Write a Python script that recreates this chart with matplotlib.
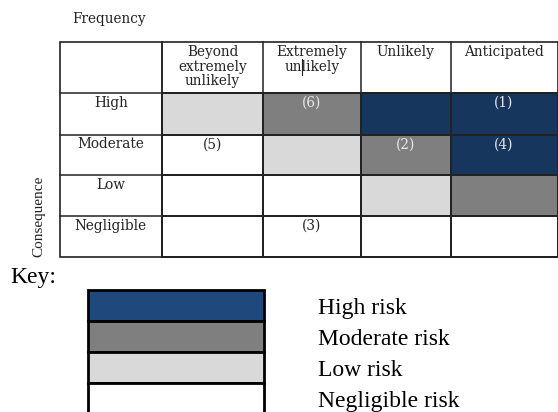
import matplotlib
matplotlib.use("Agg")
import matplotlib.pyplot as plt
from matplotlib.colors import ListedColormap
from matplotlib.patches import Rectangle
import numpy as np

# ---- data ----
frequency_labels = ["Beyond\nextremely\nunlikely", "Extremely\nunlikely", "Unlikely", "Anticipated"]
consequence_labels = ["High", "Moderate", "Low", "Negligible"]
# risk level: 0 negligible, 1 low, 2 moderate, 3 high
risk_levels = [
    [1, 2, 3, 3],
    [0, 1, 2, 3],
    [0, 0, 1, 2],
    [0, 0, 0, 0],
]
cell_ids = [
    ["", "(6)", "", "(1)"],
    ["(5)", "", "(2)", "(4)"],
    ["", "", "", ""],
    ["", "(3)", "", ""],
]
key_labels = ["High risk", "Moderate risk", "Low risk", "Negligible risk"]
key_levels = [3, 2, 1, 0]

# ---- style ----
table_colors = ["#FFFFFF", "#D9D9D9", "#7F7F7F", "#17365D"]
key_colors = ["#FFFFFF", "#D9D9D9", "#7F7F7F", "#1F497D"]
serif = ["Liberation Serif", "DejaVu Serif"]
tserif = ["DejaVu Serif"]
line_c = "#222222"

W, H = 558, 412
fig = plt.figure(figsize=(W / 100, H / 100), dpi=100)
ax = fig.add_axes([0, 0, 1, 1])
ax.set_xlim(0, W)
ax.set_ylim(H, 0)
ax.axis("off")

# table geometry (pixels)
col_edges = np.array([59.5, 162, 263, 360.5, 450.5, 557.5])
row_edges = np.array([42, 93, 134.5, 175, 215.5, 256.5])

# data cells
ax.pcolormesh(col_edges[1:], row_edges[1:], np.array(risk_levels),
              cmap=ListedColormap(table_colors), vmin=-0.5, vmax=3.5,
              edgecolor=line_c, linewidth=1.1)
ax.add_patch(Rectangle((col_edges[0], row_edges[0]), col_edges[-1] - col_edges[0],
                       row_edges[-1] - row_edges[0], fill=False, edgecolor=line_c, lw=1.2))
for x in col_edges[1:-1]:
    ax.plot([x, x], [row_edges[0], row_edges[1]], color=line_c, lw=1.1)
for y in row_edges[1:-1]:
    ax.plot([col_edges[0], col_edges[1]], [y, y], color=line_c, lw=1.1)
ax.plot([col_edges[1], col_edges[1]], [row_edges[0], row_edges[-1]], color=line_c, lw=1.1)
ax.plot([col_edges[1], col_edges[-1]], [row_edges[1], row_edges[1]], color=line_c, lw=1.1)

fs = 9.8
# column headers
for j, lab in enumerate(frequency_labels):
    xc = (col_edges[j + 1] + col_edges[j + 2]) / 2
    ax.text(xc, row_edges[0] + 3, lab, ha="center", va="top", fontsize=fs,
            family=tserif, linespacing=1.05, color="#222222")

# cursor mark seen between "un" and "likely" in the second header
fig.canvas.draw()
r = fig.canvas.get_renderer()
xc2 = (col_edges[2] + col_edges[3]) / 2
t_all = ax.text(0, 0, "unlikely", fontsize=fs, family=tserif)
t_un = ax.text(0, 0, "un", fontsize=fs, family=tserif)
w_all = t_all.get_window_extent(r).width
w_un = t_un.get_window_extent(r).width
t_all.remove(); t_un.remove()
cx = xc2 - w_all / 2 + w_un
ax.plot([cx, cx], [59, 75], color="#222222", lw=0.8)

# row labels
for i, lab in enumerate(consequence_labels):
    xc = (col_edges[0] + col_edges[1]) / 2
    ax.text(xc, row_edges[i + 1] + 3, lab, ha="center", va="top", fontsize=fs,
            family=tserif, color="#222222")
# cell ids
for i in range(4):
    for j in range(4):
        t = cell_ids[i][j]
        if t:
            lvl = risk_levels[i][j]
            c = "#E8E8E8" if lvl >= 2 else "#222222"
            xc = (col_edges[j + 1] + col_edges[j + 2]) / 2
            ax.text(xc, row_edges[i + 1] + 3, t, ha="center", va="top", fontsize=fs,
                    family=tserif, color=c)

ax.text(72, 19, "Frequency", ha="left", va="center", fontsize=fs, family=tserif, color="#222222")
ax.text(39, 216, "Consequence", ha="center", va="center", rotation=90, fontsize=11,
        family=serif, color="#222222")

# key
ax.text(10, 283, "Key:", ha="left", va="baseline", fontsize=17, family=serif, color="black")
key_x0, key_x1 = 88, 264
key_top, key_h = 290, 31
for k, (lab, lvl) in enumerate(zip(key_labels, key_levels)):
    y0 = key_top + k * key_h
    ax.add_patch(Rectangle((key_x0, y0), key_x1 - key_x0, key_h,
                           facecolor=key_colors[lvl], edgecolor="black", lw=2))
    ax.text(318, y0 + 24, lab, ha="left", va="baseline", fontsize=17, family=serif, color="black")

fig.savefig("out.png", dpi=100)
